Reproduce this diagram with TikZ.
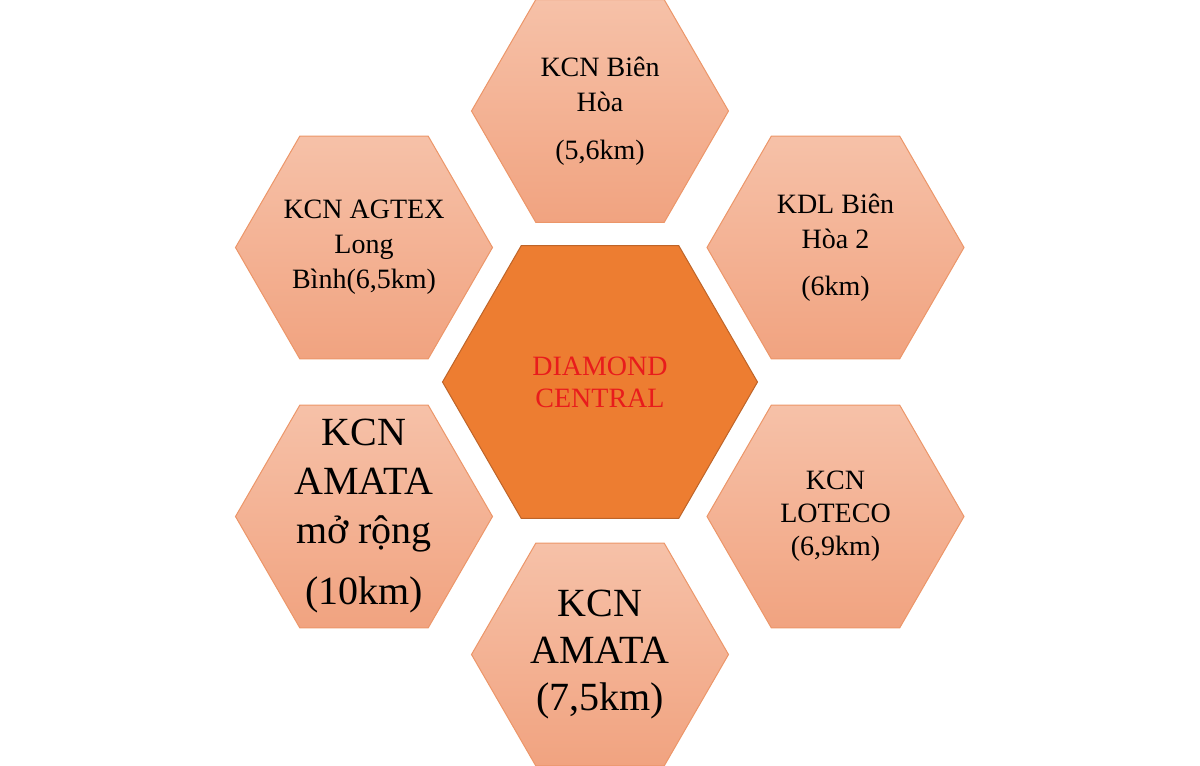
\documentclass[tikz,border=0pt]{standalone}
\usepackage{fontspec}
\setmainfont{Liberation Serif}
\usepackage{tikz}
\usetikzlibrary{shapes.geometric}

\definecolor{hexline}{RGB}{236,150,105}
\definecolor{hextop}{RGB}{246,193,168}
\definecolor{hexbottom}{RGB}{241,163,128}
\definecolor{coreorange}{RGB}{237,125,49}
\definecolor{coreline}{RGB}{190,100,40}
\definecolor{corered}{RGB}{232,28,28}

\begin{document}
\begin{tikzpicture}[x=0.5pt,y=-0.5pt,
	hexa/.style={regular polygon,regular polygon sides=6,minimum size=128.5pt,
		inner sep=0pt,outer sep=0pt,draw=hexline,line width=0.5pt,
		top color=hextop,bottom color=hexbottom},
	core/.style={regular polygon,regular polygon sides=6,minimum size=157.5pt,
		inner sep=0pt,outer sep=0pt,draw=coreline,line width=0.5pt,fill=coreorange},
	txt/.style={align=center,inner sep=0pt,font=\fontsize{14pt}{17.5pt}\selectfont},
	bigtxt/.style={align=center,inner sep=0pt,font=\fontsize{20pt}{24.5pt}\selectfont}]
	
	% page size of the reference
	\useasboundingbox (0,0) rectangle (1200,766);
	
	% centre hexagon
	\node[core] (diamond) at (600,382) {};
	\node[txt,text=corered,font=\fontsize{14pt}{16pt}\selectfont] (diamondtxt) at (diamond.center) {DIAMOND\\CENTRAL};
	
	% hexagons round it
	\node[hexa] (bienhoa) at (600,111) {};
	\node[hexa] (agtex) at (364,247.5) {};
	\node[hexa] (kdl) at (835.5,247.5) {};
	\node[hexa] (amatamr) at (364,516.5) {};
	\node[hexa] (loteco) at (835.5,516.5) {};
	\node[hexa] (amata) at (600,654.5) {};
	
	% their labels
	\node[txt] (bienhoatxt) at (bienhoa.center) {KCN Biên\\Hòa\\[6.5pt](5,6km)};
	\node[txt] (agtextxt) at (agtex.center) {KCN AGTEX\\Long\\Bình(6,5km)};
	\node[txt] (kdltxt) at (kdl.center) {KDL Biên\\Hòa 2\\[6pt](6km)};
	\node[txt,font=\fontsize{14pt}{16.5pt}\selectfont] (lotecotxt) at (loteco.center) {KCN\\LOTECO\\(6,9km)};
	\node[bigtxt] (amatamrtxt) at (amatamr.center) {KCN\\AMATA\\mở rộng\\[6pt](10km)};
	\node[bigtxt,font=\fontsize{20pt}{23.5pt}\selectfont] (amatatxt) at (amata.center) {KCN\\AMATA\\(7,5km)};
	
\end{tikzpicture}
\end{document}
